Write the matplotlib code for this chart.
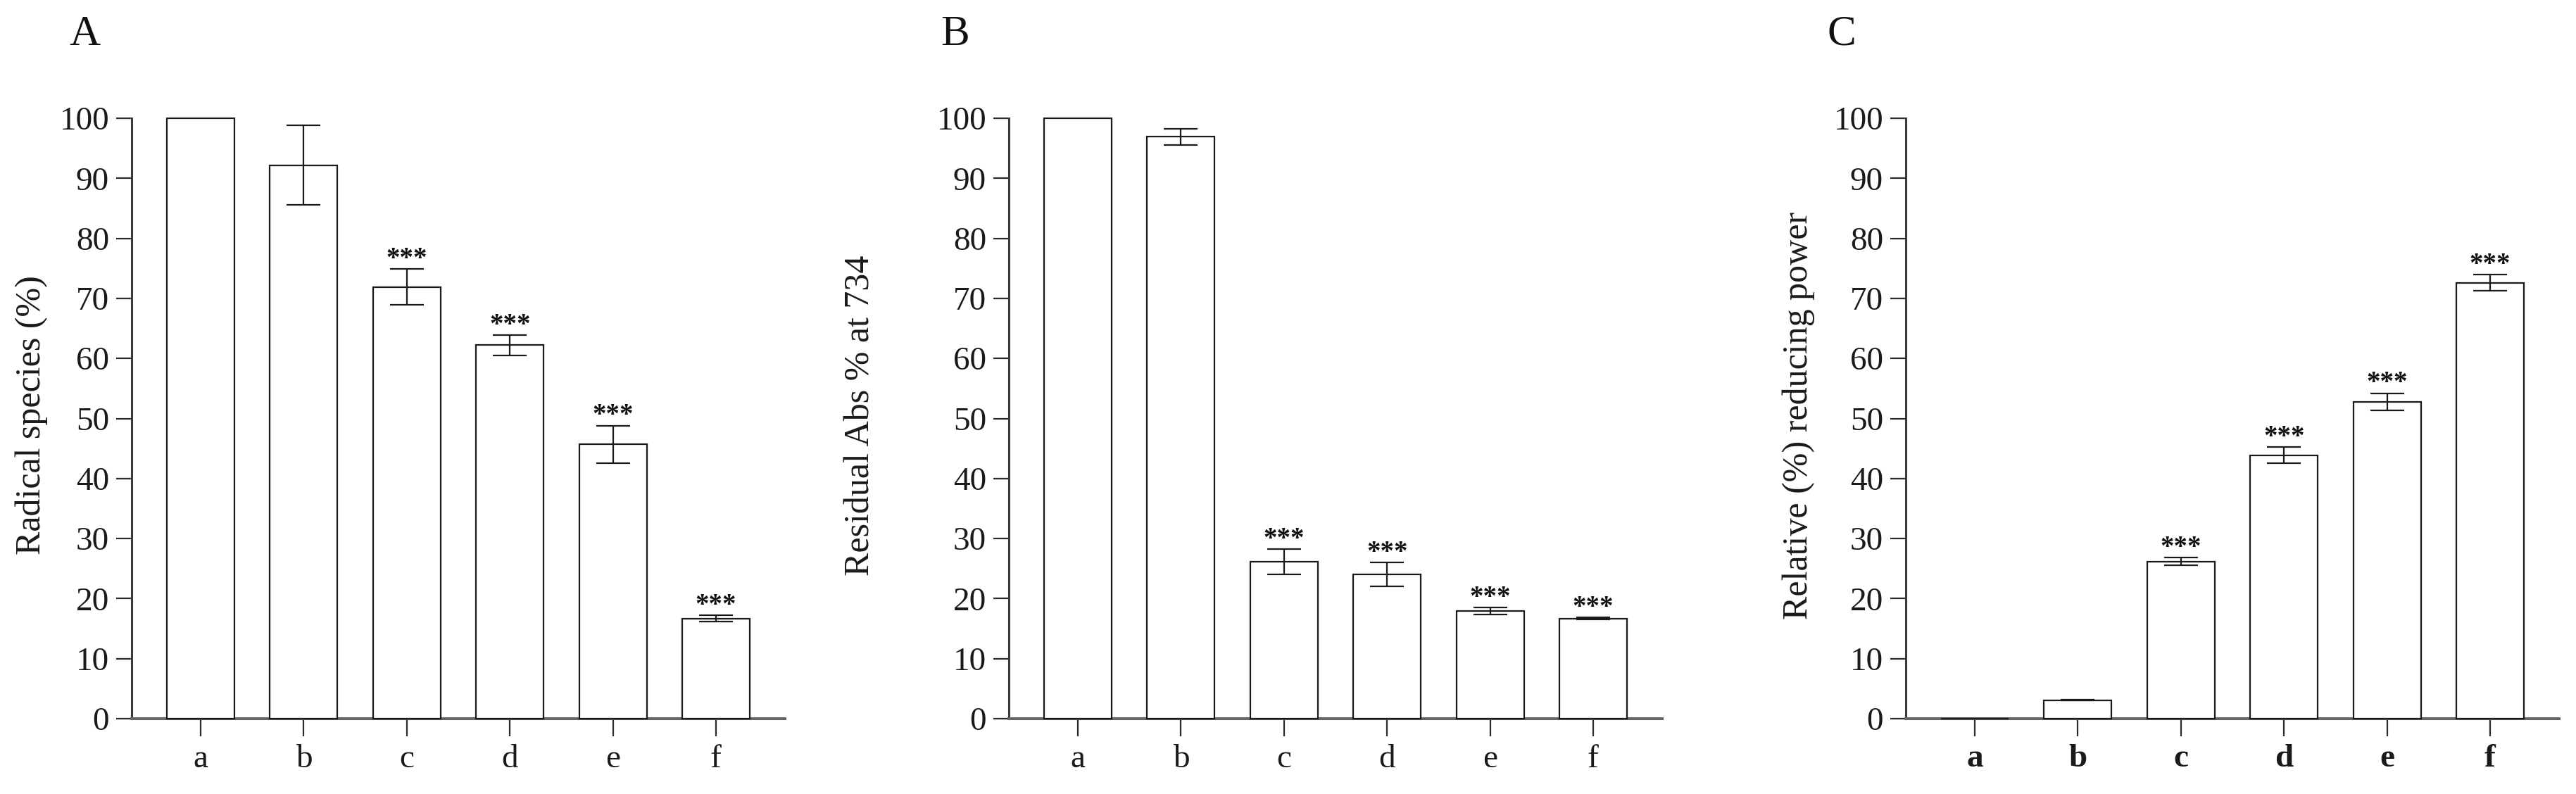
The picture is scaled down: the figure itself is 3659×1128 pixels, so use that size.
import matplotlib
matplotlib.use("Agg")
import matplotlib.pyplot as plt

plt.rcParams['font.family'] = ['Liberation Serif', 'DejaVu Serif']

# data
groups = ['a', 'b', 'c', 'd', 'e', 'f']

radical_vals = [100, 92.2, 71.9, 62.2, 45.7, 16.7]
radical_err = [0, 6.6, 3.0, 1.7, 3.1, 0.5]

residual_vals = [100, 96.9, 26.1, 24.0, 17.9, 16.7]
residual_err = [0, 1.3, 2.1, 2.0, 0.6, 0.2]

reducing_vals = [0, 3.1, 26.2, 43.9, 52.8, 72.6]
reducing_err = [0, 0.1, 0.6, 1.35, 1.4, 1.35]

stars = ['', '', '***', '***', '***', '***']

panels = [
    ("A", "Radical species (%)", radical_vals, radical_err, False),
    ("B", "Residual Abs % at 734", residual_vals, residual_err, False),
    ("C", "Relative (%) reducing power", reducing_vals, reducing_err, True),
]

W, H = 3659, 1128
fig = plt.figure(figsize=(W / 100, H / 100), dpi=100)

ax_left = [187, 1433, 2707]
ylab_x = [45, 1222, 2555]
letter_x = [98, 1336, 2595]
ax_w = 928
y0_px, y100_px = 1021, 168

for k, (letter, ylabel, vals, err, bold) in enumerate(panels):
    ax = fig.add_axes([ax_left[k] / W, 1 - y0_px / H, ax_w / W, (y0_px - y100_px) / H])
    x = list(range(len(groups)))
    ax.bar(x, vals, width=0.656, color='white', edgecolor='#1a1a1a',
           linewidth=1.6, zorder=3, clip_on=False)
    ex = [xi for xi, e in zip(x, err) if e > 0]
    ey = [v for v, e in zip(vals, err) if e > 0]
    ee = [e for e in err if e > 0]
    ax.errorbar(ex, ey, yerr=ee, fmt='none', ecolor='#1a1a1a', elinewidth=1.6,
                capsize=17, capthick=1.6, zorder=4, clip_on=False)
    for xi, v, e, s in zip(x, vals, err, stars):
        if s:
            ax.text(xi, v + e + 0.5, s, ha='center', va='baseline', fontsize=28,
                    fontweight='bold', color='#111111', zorder=5)

    ax.set_xlim(-0.67, 5.67)
    ax.set_ylim(0, 100)
    ax.set_yticks(range(0, 101, 10))
    ax.set_xticks(x)
    ax.set_xticklabels(groups, fontweight='bold' if bold else 'normal')

    for side in ['top', 'right']:
        ax.spines[side].set_visible(False)
    ax.spines['left'].set_color('#3a3a3a')
    ax.spines['left'].set_linewidth(2.2)
    ax.spines['bottom'].set_color('#666666')
    ax.spines['bottom'].set_linewidth(2.9)

    ax.tick_params(axis='y', length=16, width=1.6, color='#2a2a2a', pad=7,
                   labelsize=34, labelcolor='#1a1a1a')
    ax.tick_params(axis='x', length=18, width=1.6, color='#2a2a2a', pad=8,
                   labelsize=34, labelcolor='#1a1a1a')

    fig.text(ylab_x[k] / W, 1 - 590 / H, ylabel, rotation=90, ha='center',
             va='center', fontsize=36, color='#1a1a1a')
    fig.text(letter_x[k] / W, 1 - 64 / H, letter, ha='left', va='baseline',
             fontsize=44, color='#111111')

fig.savefig("out.png", dpi=100, facecolor='white')
